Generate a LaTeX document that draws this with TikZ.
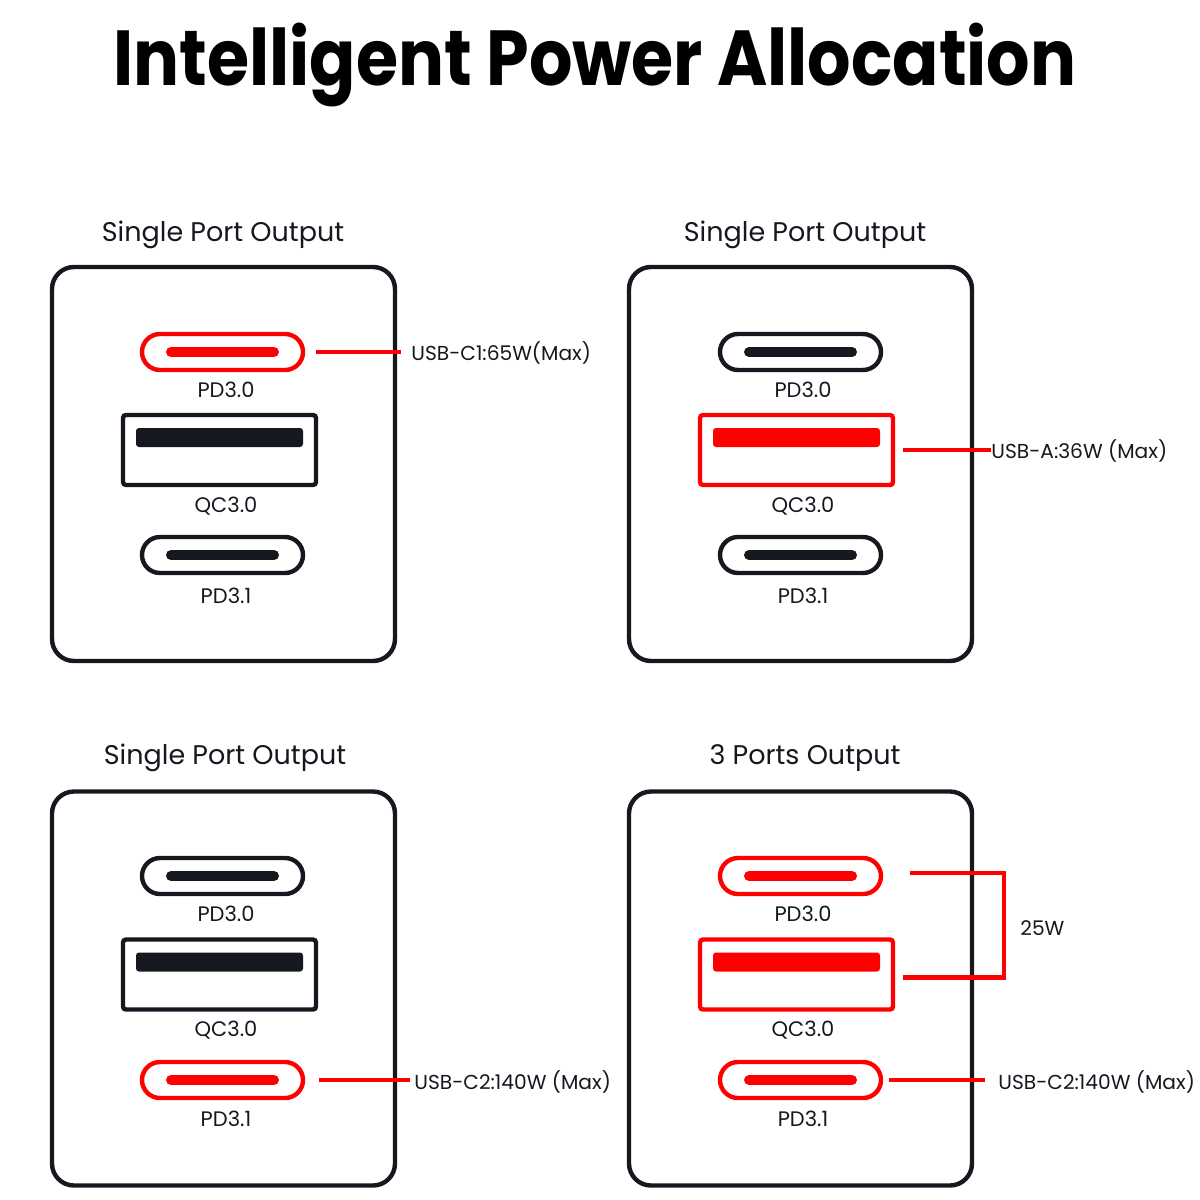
\documentclass[tikz,border=0pt]{standalone}
\usepackage{fontspec}
\setmainfont{Poppins}
\usetikzlibrary{positioning}
\definecolor{pred}{RGB}{255,0,0}
\definecolor{pdark}{RGB}{21,24,31}

\tikzset{
    cport/.style={draw=#1, line width=2.2pt, rounded corners=9pt,
        minimum width=80.5pt, minimum height=18pt, inner sep=0pt,
        path picture={\draw[#1, line width=5pt, line cap=round]
            ([xshift=-25.75pt]path picture bounding box.center) --
            ([xshift=25.75pt]path picture bounding box.center);}},
    aport/.style={draw=#1, line width=2.2pt, rounded corners=1.5pt,
        minimum width=96.5pt, minimum height=35pt, inner sep=0pt,
        path picture={\fill[#1, rounded corners=1.5pt]
            ([xshift=-41.75pt,yshift=1.5pt]path picture bounding box.center) rectangle
            ([xshift=41.75pt,yshift=11pt]path picture bounding box.center);}},
    panel/.style={draw=pdark, line width=2.2pt, rounded corners=11pt,
        minimum width=171.5pt, minimum height=197pt, inner sep=0pt},
    plabel/.style={anchor=base, inner sep=0pt, text=pdark, font=\fontsize{10.5}{12}\selectfont},
    head/.style={anchor=base, inner sep=0pt, text=pdark, font=\fontsize{13.5}{16}\selectfont},
    callout/.style={anchor=base west, inner sep=0pt, text=pdark, font=\fontsize{10.1}{12}\selectfont},
    lead/.style={draw=pred, line width=2.2pt},
}

\begin{document}
\begin{tikzpicture}[x=0.5pt, y=-0.5pt]
\useasboundingbox (0,0) rectangle (1200,1200);

\node[anchor=base, inner sep=0pt, xscale=0.875, font=\bfseries\fontsize{39}{44}\selectfont] (title) at (595,85) {Intelligent Power Allocation};

% top left: USB-C1 alone
\node[head] (h1) at (223,241) {Single Port Output};
\node[panel] (box1) at (223.5,464) {};
\node[cport=pred] (p1a) at (222.5,352) {};
\node[aport=pdark] (a1) at (219.5,450) {};
\node[cport=pdark] (p1b) at (222.5,555) {};
\node[plabel] (l1a) at (226,397.5) {PD3.0};
\node[plabel] (l1b) at (226,512.5) {QC3.0};
\node[plabel] (l1c) at (226,603.5) {PD3.1};
\node[callout] (t1) at (411,360) {USB-C1:65W(Max)};
\draw[lead, shorten <=5.5pt, shorten >=5pt] (p1a.east) -- (p1a.east -| t1.west);

% top right: USB-A alone
\node[head] (h2) at (805,241) {Single Port Output};
\node[panel] (box2) at (800.5,464) {};
\node[cport=pdark] (p2a) at (800.5,352) {};
\node[aport=pred] (a2) at (796.5,450) {};
\node[cport=pdark] (p2b) at (800.5,555) {};
\node[plabel] (l2a) at (803,397.5) {PD3.0};
\node[plabel] (l2b) at (803,512.5) {QC3.0};
\node[plabel] (l2c) at (803,603.5) {PD3.1};
\node[callout] (t2) at (991,458) {USB-A:36W (Max)};
\draw[lead, shorten <=4pt] (a2.east) -- (a2.east -| t2.west);

% bottom left: USB-C2 alone
\node[head] (h3) at (225,764) {Single Port Output};
\node[panel] (box3) at (223.5,988.5) {};
\node[cport=pdark] (p3a) at (222.5,876) {};
\node[aport=pdark] (a3) at (219.5,974.5) {};
\node[cport=pred] (p3b) at (222.5,1080) {};
\node[plabel] (l3a) at (226,921.5) {PD3.0};
\node[plabel] (l3b) at (226,1036.5) {QC3.0};
\node[plabel] (l3c) at (226,1126.5) {PD3.1};
\node[callout] (t3) at (414,1089) {USB-C2:140W (Max)};
\draw[lead, shorten <=7pt, shorten >=2pt] (p3b.east) -- (p3b.east -| t3.west);

% bottom right: all three ports
\node[head] (h4) at (805,764) {3 Ports Output};
\node[panel] (box4) at (800.5,988.5) {};
\node[cport=pred] (p4a) at (800.5,876) {};
\node[aport=pred] (a4) at (796.5,974.5) {};
\node[cport=pred] (p4b) at (800.5,1080) {};
\node[plabel] (l4a) at (803,921.5) {PD3.0};
\node[plabel] (l4b) at (803,1036.5) {QC3.0};
\node[plabel] (l4c) at (803,1126.5) {PD3.1};
\coordinate (brk) at (1004,925);
\draw[lead] ([xshift=13.5pt,yshift=1.5pt]p4a.east) -| (brk) |- ([xshift=4pt,yshift=-1.5pt]a4.east);
\node[callout] (w4) at (1020,935) {25W};
\node[callout] (t4) at (998,1089) {USB-C2:140W (Max)};
\draw[lead, shorten <=3pt, shorten >=6.5pt] (p4b.east) -- (p4b.east -| t4.west);
\end{tikzpicture}
\end{document}
